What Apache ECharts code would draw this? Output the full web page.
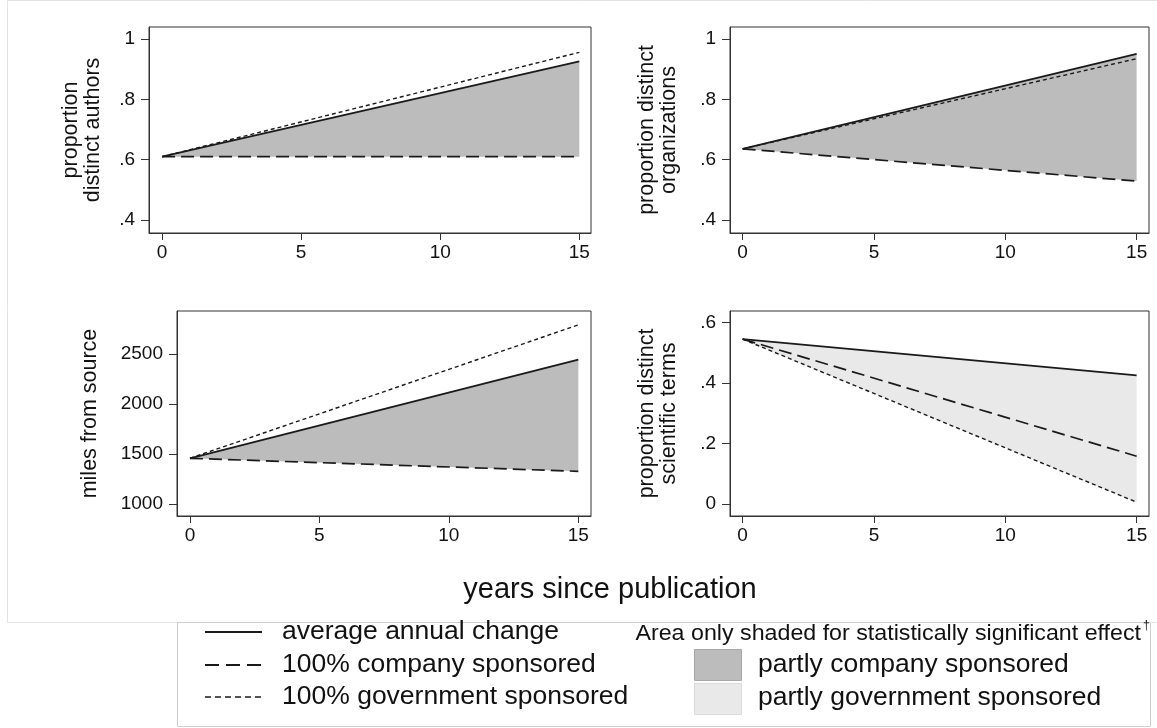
<!DOCTYPE html>
<html>
<head>
<meta charset="utf-8">
<script src="https://cdn.jsdelivr.net/npm/echarts@6/dist/echarts.min.js"></script>
<style>
  html, body { margin: 0; padding: 0; background: #ffffff; }
  #chart { width: 1157px; height: 728px; }
</style>
</head>
<body>
<div id="chart"></div>
<script>
// ---------------- data ----------------
const years = [0, 15];
const xTicks = [0, 5, 10, 15];

const authorsAvg = [0.610, 0.926];
const authorsCompany = [0.610, 0.610];
const authorsGov = [0.610, 0.956];

const orgsAvg = [0.636, 0.951];
const orgsCompany = [0.636, 0.529];
const orgsGov = [0.636, 0.935];

const milesAvg = [1457, 2444];
const milesCompany = [1457, 1327];
const milesGov = [1457, 2791];

const termsAvg = [0.545, 0.425];
const termsCompany = [0.545, 0.158];
const termsGov = [0.545, 0.006];

const propTicks = [0.4, 0.6, 0.8, 1];
const propTickLabels = ['.4', '.6', '.8', '1'];
const milesTicks = [1000, 1500, 2000, 2500];
const milesTickLabels = ['1000', '1500', '2000', '2500'];
const termsTicks = [0, 0.2, 0.4, 0.6];
const termsTickLabels = ['0', '.2', '.4', '.6'];

const yTitles = ['proportion\ndistinct authors', 'proportion distinct\norganizations', 'miles from source', 'proportion distinct\nscientific terms'];
const xTitle = 'years since publication';
const legendLines = ['average annual change', '100% company sponsored', '100% government sponsored'];
const legendAreas = ['partly company sponsored', 'partly government sponsored'];
const legendNote = 'Area only shaded for statistically significant effect';

// ---------------- styling ----------------
const FONT = 'Liberation Sans, Arial, Helvetica, sans-serif';
const INK = '#1a1a1a';
const DARK_FILL = '#bcbcbc';
const LIGHT_FILL = '#e9e9e9';
const DASH_LONG = [13, 6];
const DASH_SHORT = [4, 3];

const panels = [
  { grid: { left: 149, top: 27, width: 442, height: 206 }, xMin: -0.47, xMax: 15.42, yMin: 0.357, yMax: 1.040,
    ticks: propTicks, labels: propTickLabels, title: yTitles[0], gap: 45,
    avg: authorsAvg, company: authorsCompany, gov: authorsGov, lower: 'company', fill: DARK_FILL },
  { grid: { left: 730, top: 27, width: 419, height: 206 }, xMin: -0.48, xMax: 15.47, yMin: 0.357, yMax: 1.040,
    ticks: propTicks, labels: propTickLabels, title: yTitles[1], gap: 50,
    avg: orgsAvg, company: orgsCompany, gov: orgsGov, lower: 'company', fill: DARK_FILL },
  { grid: { left: 177, top: 311, width: 414, height: 205 }, xMin: -0.5, xMax: 15.49, yMin: 880, yMax: 2930,
    ticks: milesTicks, labels: milesTickLabels, title: yTitles[2], gap: 76,
    avg: milesAvg, company: milesCompany, gov: milesGov, lower: 'company', fill: DARK_FILL },
  { grid: { left: 730, top: 311, width: 419, height: 205 }, xMin: -0.48, xMax: 15.47, yMin: -0.0397, yMax: 0.638,
    ticks: termsTicks, labels: termsTickLabels, title: yTitles[3], gap: 50,
    avg: termsAvg, company: termsCompany, gov: termsGov, lower: 'gov', fill: LIGHT_FILL }
];

const grids = [], xAxes = [], yAxes = [], series = [];
const pair = (vals) => years.map((x, i) => [x, vals[i]]);

panels.forEach((p, i) => {
  grids.push(Object.assign({ show: true, borderColor: '#333', borderWidth: 1, backgroundColor: '#fff' }, p.grid));
  xAxes.push({
    type: 'value', gridIndex: i, min: p.xMin, max: p.xMax,
    splitLine: { show: false },
    axisLine: { show: true, onZero: false, lineStyle: { color: '#333', width: 1 } },
    axisTick: { show: true, length: 7, customValues: xTicks, lineStyle: { color: '#333' } },
    axisLabel: { customValues: xTicks, margin: 10, color: '#111', fontFamily: FONT, fontSize: 19, formatter: v => String(v) }
  });
  const lbl = {};
  p.ticks.forEach((t, k) => { lbl[t.toFixed(4)] = p.labels[k]; });
  yAxes.push({
    type: 'value', gridIndex: i, min: p.yMin, max: p.yMax,
    name: p.title, nameLocation: 'middle', nameGap: p.gap, nameRotate: 90,
    nameTextStyle: { color: '#111', fontFamily: FONT, fontSize: 21.5, lineHeight: 22, align: 'center' },
    splitLine: { show: false },
    axisLine: { show: true, onZero: false, lineStyle: { color: '#333', width: 1 } },
    axisTick: { show: true, length: 8, customValues: p.ticks, lineStyle: { color: '#333' } },
    axisLabel: { customValues: p.ticks, margin: 14, color: '#111', fontFamily: FONT, fontSize: 19,
      formatter: v => lbl[Number(v).toFixed(4)] !== undefined ? lbl[Number(v).toFixed(4)] : '' }
  });
  const lower = p[p.lower];
  const upper = p.avg;
  // shaded band between the average line and the lower bounding line
  series.push({
    type: 'custom', xAxisIndex: i, yAxisIndex: i, silent: true, z: 1,
    data: [[years[0], upper[0]]],
    renderItem: (params, api) => {
      const top = years.map((x, k) => api.coord([x, upper[k]]));
      const bottom = years.map((x, k) => api.coord([x, lower[k]])).reverse();
      return { type: 'polygon', shape: { points: top.concat(bottom) }, style: { fill: p.fill, stroke: null } };
    }
  });
  series.push({
    name: legendLines[2], type: 'line', xAxisIndex: i, yAxisIndex: i, data: pair(p.gov),
    symbol: 'none', lineStyle: { color: INK, width: 1.4, type: DASH_SHORT }, z: 3
  });
  series.push({
    name: legendLines[1], type: 'line', xAxisIndex: i, yAxisIndex: i, data: pair(p.company),
    symbol: 'none', lineStyle: { color: INK, width: 1.7, type: DASH_LONG }, z: 3
  });
  series.push({
    name: legendLines[0], type: 'line', xAxisIndex: i, yAxisIndex: i, data: pair(p.avg),
    symbol: 'none', lineStyle: { color: INK, width: 1.8 }, z: 4
  });
});

// ---------------- legend & frame (graphic) ----------------
const LEG_FONT = 26.5;
const graphic = [
  { type: 'rect', left: 7, top: 0, z: -10, silent: true, shape: { width: 1160, height: 622 },
    style: { fill: '#fff', stroke: '#e3e3e3', lineWidth: 1 } },
  { type: 'text', x: 610, y: 590, z: 10, style: { text: xTitle, font: '29px ' + FONT, fill: '#111', align: 'center', verticalAlign: 'middle' } },
  { type: 'rect', shape: { x: 177.5, y: 622.5, width: 973, height: 104 }, z: 5,
    style: { fill: '#fff', stroke: '#d0d0d0', lineWidth: 1 } },
  { type: 'line', shape: { x1: 205, y1: 632, x2: 262, y2: 632 }, z: 6, style: { stroke: INK, lineWidth: 1.8 } },
  { type: 'line', shape: { x1: 205, y1: 665, x2: 262, y2: 665 }, z: 6, style: { stroke: INK, lineWidth: 1.8, lineDash: [14, 7] } },
  { type: 'line', shape: { x1: 205, y1: 697, x2: 262, y2: 697 }, z: 6, style: { stroke: INK, lineWidth: 1.4, lineDash: [6, 4] } },
  { type: 'text', x: 282, y: 632, z: 6, style: { text: legendLines[0], font: LEG_FONT + 'px ' + FONT, fill: '#111', verticalAlign: 'middle' } },
  { type: 'text', x: 282, y: 665, z: 6, style: { text: legendLines[1], font: LEG_FONT + 'px ' + FONT, fill: '#111', verticalAlign: 'middle' } },
  { type: 'text', x: 282, y: 697, z: 6, style: { text: legendLines[2], font: LEG_FONT + 'px ' + FONT, fill: '#111', verticalAlign: 'middle' } },
  { type: 'text', x: 1141, y: 634, z: 6, scaleX: 1.08, originX: 0, originY: 0,
    style: { text: legendNote, font: '21.5px ' + FONT, fill: '#111', align: 'right', verticalAlign: 'middle' } },
  { type: 'text', x: 1143, y: 626, z: 6, style: { text: '\u2020', font: '12px ' + FONT, fill: '#111', align: 'left', verticalAlign: 'middle' } },
  { type: 'rect', shape: { x: 694.5, y: 649.5, width: 47, height: 31 }, z: 6, style: { fill: DARK_FILL, stroke: '#a8a8a8', lineWidth: 1 } },
  { type: 'rect', shape: { x: 694.5, y: 683.5, width: 47, height: 31 }, z: 6, style: { fill: LIGHT_FILL, stroke: '#dadada', lineWidth: 1 } },
  { type: 'text', x: 758, y: 665, z: 6, style: { text: legendAreas[0], font: LEG_FONT + 'px ' + FONT, fill: '#111', verticalAlign: 'middle' } },
  { type: 'text', x: 758, y: 698, z: 6, style: { text: legendAreas[1], font: LEG_FONT + 'px ' + FONT, fill: '#111', verticalAlign: 'middle' } }
];

const chart = echarts.init(document.getElementById('chart'), null, { renderer: 'canvas' });
chart.setOption({
  backgroundColor: '#ffffff',
  animation: false,
  textStyle: { fontFamily: FONT },
  grid: grids,
  xAxis: xAxes,
  yAxis: yAxes,
  series: series,
  graphic: graphic
});
</script>
</body>
</html>
